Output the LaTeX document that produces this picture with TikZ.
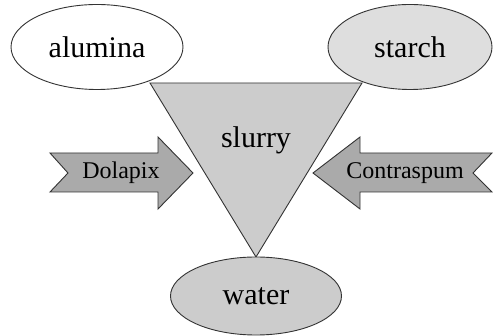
\documentclass[tikz,border=0pt]{standalone}
\usepackage{fontspec}
\setmainfont{Liberation Serif}
\usetikzlibrary{shapes.geometric, positioning, calc}
\definecolor{lightgrey}{HTML}{DEDEDE}
\definecolor{midgrey}{HTML}{CCCCCC}
\definecolor{darkgrey}{HTML}{AAAAAA}
\definecolor{edgegrey}{HTML}{333333}
\tikzset{
  ingr/.style    = {draw=edgegrey, ellipse, line width=0.9pt, inner sep=0pt,
                    font=\fontsize{30}{36}\selectfont},
  mix/.style     = {draw=edgegrey, fill=midgrey, line width=0.9pt, line join=miter},
  additive/.style= {draw=edgegrey, fill=darkgrey, line width=0.9pt, line join=miter},
  lbl/.style     = {inner sep=0pt, font=\fontsize{24}{28}\selectfont},
}

\begin{document}
\begin{tikzpicture}[x=1pt, y=-1pt]
  \useasboundingbox (0,0) rectangle (493,336);

  % slurry funnel
  \coordinate (tl) at (150,83);
  \coordinate (tr) at (362,83);
  \coordinate (apex) at (256,257);
  \draw[mix] (tl) -- (tr) -- (apex) -- cycle;
  \node[inner sep=0pt, font=\fontsize{30}{36}\selectfont] (slurry) at (256,140) {slurry};

  % ingredients
  \node[ingr, fill=white,     minimum width=172pt, minimum height=85pt] (alumina) at (97,47)  {alumina};
  \node[ingr, fill=lightgrey, minimum width=164pt, minimum height=85pt] (starch)  at (410,47) {starch};
  \node[ingr, fill=midgrey,   minimum width=171pt, minimum height=78pt] (water)   at (256,296) {water};

  % additives
  \draw[additive] (50,153) -- (158,153) -- (158,137) -- (193,173) -- (158,209)
    -- (158,192) -- (50,192) -- (68,173) -- cycle;
  \node[lbl] (dolapix) at (121,173) {Dolapix};
  \draw[additive] (492,153) -- (360,153) -- (360,137) -- (313,173) -- (360,209)
    -- (360,192) -- (492,192) -- (473,173) -- cycle;
  \node[lbl] (contraspum) at (405,173) {Contraspum};
\end{tikzpicture}
\end{document}
